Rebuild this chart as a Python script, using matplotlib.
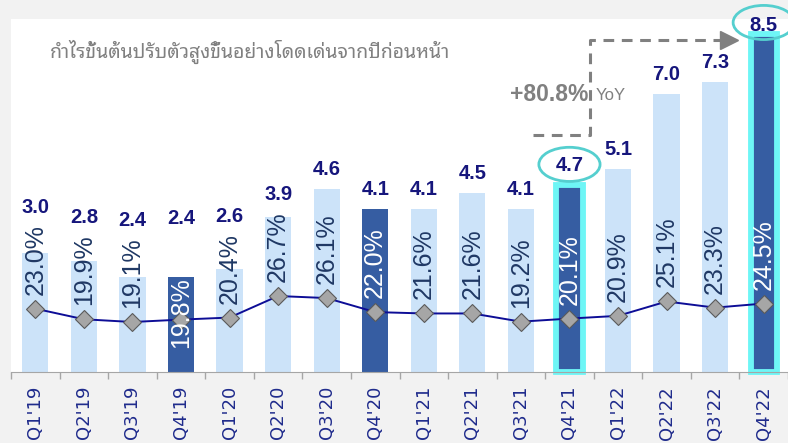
# -*- coding: utf-8 -*-
import matplotlib
matplotlib.use('Agg')
import matplotlib.pyplot as plt
from matplotlib.patches import Ellipse
import numpy as np

# data
quarters = ["Q1'19", "Q2'19", "Q3'19", "Q4'19", "Q1'20", "Q2'20", "Q3'20", "Q4'20",
            "Q1'21", "Q2'21", "Q3'21", "Q4'21", "Q1'22", "Q2'22", "Q3'22", "Q4'22"]
gross_profit = [3.0, 2.8, 2.4, 2.4, 2.6, 3.9, 4.6, 4.1, 4.1, 4.5, 4.1, 4.7, 5.1, 7.0, 7.3, 8.5]
gp_margin = [23.0, 19.9, 19.1, 19.8, 20.4, 26.7, 26.1, 22.0, 21.6, 21.6, 19.2, 20.1, 20.9, 25.1, 23.3, 24.5]
dark_idx = [3, 7, 11, 15]       # Q4 bars
circled_idx = [11, 15]          # Q4'21 and Q4'22
yoy_text = '+80.8%'
title_th = 'กำไรขั้นต้นปรับตัวสูงขึ้นอย่างโดดเด่นจากปีก่อนหน้า'

# colors
light = '#cce3f9'
dark = '#365da2'
navy = '#16167c'
cyan = '#6ef6f6'
ring = '#55cfcf'
grey = '#808080'

plt.rcParams['font.family'] = ['Liberation Sans', 'DejaVu Sans']

fig = plt.figure(figsize=(7.88, 4.43), dpi=100, facecolor='#f2f2f2')
ax = fig.add_axes([11 / 788, 1 - 372 / 443, 777 / 788, 353 / 443])
ax.set_facecolor('white')
x = np.arange(len(quarters))

colors = [dark if i in dark_idx else light for i in x]
bars = ax.bar(x, gross_profit, width=0.54, color=colors, zorder=2)
for i in circled_idx:
    bars[i].set_edgecolor(cyan)
    bars[i].set_linewidth(4.2)
    bars[i].set_clip_on(False)

ax.set_xlim(-0.49, 15.41)
ax.set_ylim(0, 8.89)
ax.set_yticks([])
for s in ['top', 'right', 'left']:
    ax.spines[s].set_visible(False)
ax.spines['bottom'].set_color('#a6a6a6')
ax.set_xticks(x)
ax.set_xticklabels(quarters, rotation=90, color='#1f2b8c', fontsize=13, family='DejaVu Sans')
ax.tick_params(axis='x', which='major', length=0, pad=10)
ax.set_xticks(np.r_[-0.5, x + 0.5], minor=True)
ax.tick_params(axis='x', which='minor', length=5, color='#a6a6a6', width=1)

# margin line on second axis
ax2 = ax.twinx()
ax2.set_ylim(4.48, 107.7)
ax2.set_yticks([])
for s in ax2.spines.values():
    s.set_visible(False)
ax2.plot(x, gp_margin, color='#0d0d96', lw=1.4, marker='D', markersize=9,
         markerfacecolor='#a6a6a6', markeredgecolor='#5a5a5a', markeredgewidth=0.8, zorder=3)

# percentage labels inside bars + value labels on top
px2pt = 0.72
for i in x:
    shift = -28 if i == 3 else 14
    ax2.annotate('%.1f%%' % gp_margin[i], (i, gp_margin[i]), xytext=(0, shift * px2pt),
                 textcoords='offset points', rotation=90, ha='center', va='bottom',
                 fontsize=18, color='white' if i in dark_idx else '#1f3864', zorder=4)
    # value label: above bar, but also above the percent label
    bar_top = ax.transData.transform((i, gross_profit[i]))[1]
    mark = ax2.transData.transform((i, gp_margin[i]))[1]
    pct_top = mark + 14 + 70
    gap = -1 if i == 15 else 10
    y_px = max(bar_top + gap, pct_top + 8)
    y_val = ax.transData.inverted().transform((0, y_px))[1]
    ax.text(i, y_val, '%.1f' % gross_profit[i], ha='center', va='bottom',
            fontsize=14.5, fontweight='bold', color=navy, zorder=5)

# circles around highlighted values
for i in circled_idx:
    bar_top = ax.transData.transform((i, gross_profit[i]))[1]
    lift = 12 if i == 15 else 21
    cy = ax.transData.inverted().transform((0, bar_top + lift))[1]
    e = Ellipse((i, cy), width=1.26, height=0.86, fill=False, edgecolor=ring, lw=2,
                zorder=6, clip_on=False)
    ax.add_patch(e)

# YoY dashed arrow from Q4'21 to Q4'22
y_low = gross_profit[11] + 1.26
y_high = gross_profit[15] - 0.15
x_corner = 11.43
ax.plot([10.25, x_corner, x_corner, 14.12], [y_low, y_low, y_high, y_high],
        color=grey, lw=2.2, dashes=(3.5, 2.5), zorder=5)
ax.plot([14.28], [y_high], marker='>', markersize=13, color=grey, zorder=5)
y_mid = (y_low + y_high) / 2 - 0.17
ax.text(x_corner - 0.05, y_mid, yoy_text, ha='right', va='center', fontsize=16.5,
        fontweight='bold', color=grey)
ax.text(x_corner + 0.1, y_mid - 0.02, 'YoY', ha='left', va='center', fontsize=12, color=grey)

fig.text(50 / 788, 1 - 52 / 443, title_th, ha='left', va='center', fontsize=14,
         color=grey, family=['Noto Sans Thai Looped', 'DejaVu Sans'])

fig.savefig('out.png', dpi=100, facecolor=fig.get_facecolor())
